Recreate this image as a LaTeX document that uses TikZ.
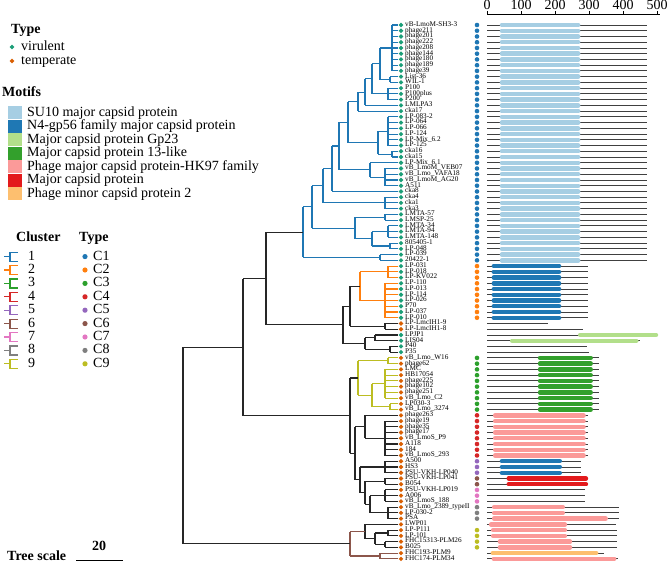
\documentclass[tikz,border=0pt]{standalone}
\usepackage{fontspec}
\setmainfont{Liberation Serif}
\definecolor{vir}{HTML}{1B9E77}
\definecolor{tem}{HTML}{D95F02}
\definecolor{m1}{HTML}{A6CEE3}
\definecolor{m2}{HTML}{1F78B4}
\definecolor{m3}{HTML}{B2DF8A}
\definecolor{m4}{HTML}{33A02C}
\definecolor{m5}{HTML}{FB9A99}
\definecolor{m6}{HTML}{E31A1C}
\definecolor{m7}{HTML}{FDBF6F}
\definecolor{c1}{HTML}{1F77B4}
\definecolor{c2}{HTML}{FF7F0E}
\definecolor{c3}{HTML}{2CA02C}
\definecolor{c4}{HTML}{D62728}
\definecolor{c5}{HTML}{9467BD}
\definecolor{c6}{HTML}{8C564B}
\definecolor{c7}{HTML}{E377C2}
\definecolor{c8}{HTML}{7F7F7F}
\definecolor{c9}{HTML}{BCBD22}
\pgfmathdeclarefunction{ly}{1}{\pgfmathparse{25+(#1-1)*5.74}}
\tikzset{
  lab/.style={anchor=west,inner sep=0pt,text height=3.6pt,text depth=0.9pt,font=\fontsize{7.2}{7.2}\selectfont},
  leg/.style={anchor=west,inner sep=0pt,text height=9.5pt,text depth=2.5pt,font=\fontsize{14}{14}\selectfont},
  hd/.style={anchor=west,inner sep=0pt,text height=9.5pt,text depth=2.5pt,font=\fontsize{14}{14}\selectfont\bfseries},
  tb/.style={line width=1.1pt,black!85},
  tblue/.style={line width=1.1pt,c1},
  torange/.style={line width=1.1pt,c2},
  tolive/.style={line width=1.1pt,c9},
  tbrown/.style={line width=1.1pt,c6},
  protline/.style={line width=0.9pt,black!75},
}
\newcommand\diam[3]{\fill[#3] (#1,#2) +(0,-2.3) -- +(2.3,0) -- +(0,2.3) -- +(-2.3,0) -- cycle;}
\newcommand\vbr[4]{\draw[#4] (#1,#2) -- (#1,#3);}
\newcommand\hbr[4]{\draw[#4] (#1,#3) -- (#2,#3);}
\newcommand\lfs[4]{\foreach \i in {#2,...,#3}{\draw[#4] (#1,{ly(\i)}) -- (398,{ly(\i)});}}
\newcommand\grp[4]{\vbr{#1}{{ly(#2)}}{{ly(#3)}}{#4}\lfs{#1}{#2}{#3}{#4}}
\newcommand\leaf[8]{%
  \pgfmathsetmacro\yy{25+(#1-1)*5.74}%
  \ifx v#3\diam{401}{\yy}{vir}\else\diam{401}{\yy}{tem}\fi
  \node[lab] (leaf#1) at (405,\yy) {#2};
  \ifnum#4>0 \fill[c#4] (477,\yy) circle (2.3);\fi
  \draw[protline] (487,\yy) -- ++(#5*0.34,0);
  \ifnum#6>0 \draw[line width=4.4pt,line cap=round,m#6] ({487+#7*0.34+2},\yy) -- ({487+#8*0.34-2},\yy);\fi
}
\begin{document}
\begin{tikzpicture}[x=1pt,y=-1pt]
\useasboundingbox (0,0) rectangle (669,564);
% ---------- legend ----------
\node[hd] (tyh) at (11,30) {Type};
\diam{12}{47}{vir}\node[leg] (lv) at (21,47) {virulent};
\diam{12}{61}{tem}\node[leg] (lt) at (21,61) {temperate};
\node[hd] (moh) at (2,93) {Motifs};
\foreach \c/\t [count=\k from 0] in {m1/SU10 major capsid protein,m2/N4-gp56 family major capsid protein,m3/Major capsid protein Gp23,m4/Major capsid protein 13-like,m5/Phage major capsid protein-HK97 family,m6/Major capsid protein,m7/Phage minor capsid protein 2}{
  \fill[\c] (8,{113+\k*13.5-6.5}) rectangle (22,{113+\k*13.5+6.5});
  \node[leg] at (27,{113+\k*13.5}) {\t};
}
\node[hd] (clh) at (16,238) {Cluster};
\node[hd] (cth) at (79,238) {Type};
\foreach \k in {1,...,9}{
  \pgfmathsetmacro\yc{256.6+(\k-1)*13.4}
  \draw[c\k,line width=1.2pt] (4,\yc) -- (10,\yc) (18,\yc-4.5) -- (10,\yc-4.5) -- (10,\yc+4.5) -- (18,\yc+4.5);
  \node[leg] at (28,\yc) {\k};
  \fill[c\k] (85,\yc) circle (2.6);
  \node[leg] at (93,\yc) {C\k};
}
\node[hd] (tsc) at (7,557) {Tree scale};
\draw[line width=1pt] (76,560) -- (123,560);
\node[inner sep=0pt,font=\fontsize{14}{14}\selectfont\bfseries] (ts20) at (99,546) {20};
% ---------- axis ----------
\draw[line width=1pt] (487,15) -- (660,15);
\foreach \v in {0,100,...,500}{
  \draw[line width=1pt] ({487+\v*0.34},15) -- ++(0,-4);
  \node[inner sep=0pt,font=\fontsize{14}{14}\selectfont] at ({487+\v*0.34},5) {\v};
}
% ---------- tree : cluster 1 (blue) ----------
\grp{392}{1}{9}{tblue}    \hbr{380}{392}{47.96}{tblue}
\grp{390}{10}{11}{tblue}  \hbr{380}{390}{79.53}{tblue}
\vbr{380}{47.96}{79.53}{tblue}   \hbr{372}{380}{63.75}{tblue}
\grp{388}{12}{14}{tblue}  \hbr{372}{388}{93.88}{tblue}
\vbr{372}{63.75}{93.88}{tblue}   \hbr{365}{372}{78.8}{tblue}
\lfs{365}{15}{15}{tblue}
\vbr{365}{78.8}{105.36}{tblue}   \hbr{358}{365}{92.08}{tblue}
\lfs{358}{16}{16}{tblue}
\vbr{358}{92.08}{111.1}{tblue}   \hbr{348}{358}{101.6}{tblue}
\grp{388}{17}{22}{tblue}  \hbr{378}{388}{131.19}{tblue}
\grp{392}{23}{24}{tblue}  \hbr{378}{392}{154.15}{tblue}
\vbr{378}{131.19}{154.15}{tblue} \hbr{348}{378}{142.67}{tblue}
\vbr{348}{101.6}{142.67}{tblue}  \hbr{339}{348}{122.1}{tblue}
\lfs{370}{25}{25}{tblue}
\grp{385}{26}{29}{tblue}  \hbr{370}{385}{177.11}{tblue}
\vbr{370}{162.76}{177.11}{tblue} \hbr{339}{370}{169.94}{tblue}
\vbr{339}{122.1}{169.94}{tblue}  \hbr{332}{339}{146.02}{tblue}
\lfs{332}{30}{30}{tblue}
\vbr{332}{146.02}{191.46}{tblue} \hbr{323}{332}{168.74}{tblue}
\grp{385}{31}{33}{tblue}  \hbr{323}{385}{202.94}{tblue}
\vbr{323}{168.74}{202.94}{tblue} \hbr{312}{323}{185.84}{tblue}
\grp{385}{34}{35}{tblue}  \hbr{355}{385}{217.29}{tblue}
\grp{388}{36}{38}{tblue}  \hbr{372}{388}{231.64}{tblue}
\grp{390}{39}{40}{tblue}  \hbr{372}{390}{245.99}{tblue}
\vbr{372}{231.64}{245.99}{tblue} \hbr{355}{372}{238.8}{tblue}
\vbr{355}{217.29}{238.8}{tblue}  \hbr{312}{355}{228.05}{tblue}
\vbr{312}{185.84}{228.05}{tblue} \hbr{303}{312}{206.9}{tblue}
\grp{380}{41}{42}{tblue}  \hbr{303}{380}{257.47}{tblue}
\vbr{303}{206.9}{257.47}{tblue}  \hbr{266}{303}{232.18}{tb}
% ---------- cluster 2 (orange) and unclustered ----------
\grp{388}{43}{45}{torange} \hbr{360}{388}{271.82}{torange}
\grp{385}{46}{52}{torange} \hbr{360}{385}{300.52}{torange}
\vbr{360}{271.82}{300.52}{torange} \hbr{350}{360}{286.17}{tb}
\grp{385}{53}{54}{tb}      \hbr{350}{385}{326.35}{tb}
\vbr{350}{286.17}{326.35}{tb}  \hbr{343}{350}{306.26}{tb}
\grp{375}{55}{56}{tb}      \hbr{365}{375}{337.83}{tb}
\grp{390}{57}{58}{tb}      \hbr{365}{390}{349.31}{tb}
\vbr{365}{337.83}{349.31}{tb}  \hbr{343}{365}{343.57}{tb}
\vbr{343}{306.26}{343.57}{tb}  \hbr{266}{343}{324.9}{tb}
\vbr{266}{232.18}{324.9}{tb}   \hbr{243}{266}{278.54}{tb}
% ---------- lower group ----------
\grp{388}{59}{60}{tolive}  \hbr{358}{388}{360.79}{tolive}
\grp{385}{61}{66}{tolive}  \hbr{372}{385}{383.75}{tolive}
\grp{390}{67}{68}{tolive}  \hbr{372}{390}{406.71}{tolive}
\vbr{372}{383.75}{406.71}{tolive} \hbr{358}{372}{395.23}{tolive}
\vbr{358}{360.79}{395.23}{tolive} \hbr{350}{358}{378.01}{tb}
\grp{385}{70}{76}{tb}      \hbr{365}{385}{438.28}{tb}
\lfs{365}{69}{69}{tb}
\vbr{365}{415.32}{438.28}{tb}  \hbr{355}{365}{426.8}{tb}
\grp{385}{77}{79}{tb}      \hbr{360}{385}{466.98}{tb}
\grp{385}{80}{81}{tb}      \hbr{365}{385}{481.33}{tb}
\grp{385}{82}{84}{tb}      \hbr{370}{385}{495.68}{tb}
\grp{388}{85}{87}{tb}      \hbr{370}{388}{512.9}{tb}
\vbr{370}{495.68}{512.9}{tb}   \hbr{365}{370}{504.29}{tb}
\vbr{365}{481.33}{504.29}{tb}  \hbr{360}{365}{492.81}{tb}
\vbr{360}{466.98}{492.81}{tb}  \hbr{355}{360}{479.9}{tb}
\vbr{355}{426.8}{479.9}{tb}    \hbr{350}{355}{453.35}{tb}
\vbr{350}{378.01}{453.35}{tb}  \hbr{243}{350}{415.68}{tb}
\vbr{243}{278.54}{415.68}{tb}  \hbr{183}{243}{347.11}{tb}
% ---------- bottom clade ----------
\grp{388}{89}{90}{tb}      \hbr{375}{388}{532.99}{tb}
\grp{385}{91}{92}{tb}      \hbr{375}{385}{544.47}{tb}
\vbr{375}{532.99}{544.47}{tb}  \hbr{365}{375}{538.73}{tb}
\lfs{365}{88}{88}{tb}
\vbr{365}{524.38}{538.73}{tb}  \hbr{350}{365}{531.56}{tbrown}
\grp{380}{93}{94}{tbrown}  \hbr{350}{380}{555.95}{tbrown}
\vbr{350}{531.56}{555.95}{tbrown} \hbr{183}{350}{543.76}{tb}
\vbr{183}{347.11}{543.76}{tb}
% ---------- leaves ----------
\leaf{1}{vB-LmoM-SH3-3}{v}{1}{470}{1}{38}{274}
\leaf{2}{phage211}{v}{1}{470}{1}{38}{274}
\leaf{3}{phage201}{v}{1}{470}{1}{38}{274}
\leaf{4}{phage222}{v}{1}{470}{1}{38}{274}
\leaf{5}{phage208}{v}{1}{470}{1}{38}{274}
\leaf{6}{phage144}{v}{1}{470}{1}{38}{274}
\leaf{7}{phage180}{v}{1}{470}{1}{38}{274}
\leaf{8}{phage189}{v}{1}{470}{1}{38}{274}
\leaf{9}{phage39}{v}{1}{470}{1}{38}{274}
\leaf{10}{List-36}{v}{1}{470}{1}{38}{274}
\leaf{11}{WIL-1}{v}{1}{470}{1}{38}{274}
\leaf{12}{P100}{v}{1}{470}{1}{38}{274}
\leaf{13}{P100plus}{v}{1}{470}{1}{38}{274}
\leaf{14}{P200}{v}{1}{470}{1}{38}{274}
\leaf{15}{LMLPA3}{v}{1}{470}{1}{38}{274}
\leaf{16}{cka17}{v}{1}{470}{1}{38}{274}
\leaf{17}{LP-083-2}{v}{1}{470}{1}{38}{274}
\leaf{18}{LP-064}{v}{1}{470}{1}{38}{274}
\leaf{19}{LP-066}{v}{1}{470}{1}{38}{274}
\leaf{20}{LP-124}{v}{1}{470}{1}{38}{274}
\leaf{21}{LP-Mix\_6.2}{v}{1}{470}{1}{38}{274}
\leaf{22}{LP-125}{v}{1}{470}{1}{38}{274}
\leaf{23}{cka16}{v}{1}{470}{1}{38}{274}
\leaf{24}{cka15}{v}{1}{470}{1}{38}{274}
\leaf{25}{LP-Mix\_6.1}{v}{1}{470}{1}{38}{274}
\leaf{26}{vB\_LmoM\_VEB07}{v}{1}{470}{1}{38}{274}
\leaf{27}{vB\_Lmo\_VAFA18}{v}{1}{470}{1}{38}{274}
\leaf{28}{vB\_LmoM\_AG20}{v}{1}{470}{1}{38}{274}
\leaf{29}{A511}{v}{1}{470}{1}{38}{274}
\leaf{30}{cka8}{v}{1}{470}{1}{38}{274}
\leaf{31}{cka4}{v}{1}{470}{1}{38}{274}
\leaf{32}{cka1}{v}{1}{470}{1}{38}{274}
\leaf{33}{cka3}{v}{1}{470}{1}{38}{274}
\leaf{34}{LMTA-57}{v}{1}{470}{1}{38}{274}
\leaf{35}{LMSP-25}{v}{1}{470}{1}{38}{274}
\leaf{36}{LMTA-34}{v}{1}{470}{1}{38}{274}
\leaf{37}{LMTA-94}{v}{1}{470}{1}{38}{274}
\leaf{38}{LMTA-148}{v}{1}{470}{1}{38}{274}
\leaf{39}{805405-1}{v}{1}{470}{1}{38}{274}
\leaf{40}{LP-048}{v}{1}{470}{1}{38}{274}
\leaf{41}{LP-039}{v}{1}{470}{1}{38}{274}
\leaf{42}{20422-1}{v}{1}{470}{1}{38}{274}
\leaf{43}{LP-031}{v}{2}{298}{2}{14}{218}
\leaf{44}{LP-018}{v}{2}{298}{2}{14}{218}
\leaf{45}{LP-KV022}{v}{2}{298}{2}{14}{218}
\leaf{46}{LP-110}{v}{2}{298}{2}{14}{218}
\leaf{47}{LP-013}{v}{2}{298}{2}{14}{218}
\leaf{48}{LP-114}{v}{2}{298}{2}{14}{218}
\leaf{49}{LP-026}{v}{2}{298}{2}{14}{218}
\leaf{50}{P70}{v}{2}{298}{2}{14}{218}
\leaf{51}{LP-037}{v}{2}{298}{2}{14}{218}
\leaf{52}{LP-010}{v}{2}{298}{2}{14}{218}
\leaf{53}{LP-LmcIH1-9}{t}{0}{180}{0}{0}{0}
\leaf{54}{LP-LmcIH1-8}{t}{0}{283}{0}{0}{0}
\leaf{55}{LPJP1}{v}{0}{503}{3}{268}{503}
\leaf{56}{LIS04}{v}{0}{450}{3}{68}{445}
\leaf{57}{P40}{v}{0}{295}{0}{0}{0}
\leaf{58}{P35}{v}{0}{300}{0}{0}{0}
\leaf{59}{vB\_Lmo\_W16}{t}{3}{330}{4}{150}{311}
\leaf{60}{phage62}{t}{3}{330}{4}{150}{311}
\leaf{61}{LMC}{t}{3}{330}{4}{150}{311}
\leaf{62}{HB17054}{t}{3}{330}{4}{150}{311}
\leaf{63}{phage225}{t}{3}{330}{4}{150}{311}
\leaf{64}{phage102}{t}{3}{330}{4}{150}{311}
\leaf{65}{phage251}{t}{3}{330}{4}{150}{311}
\leaf{66}{vB\_Lmo\_C2}{t}{3}{330}{4}{150}{311}
\leaf{67}{LP030-3}{t}{3}{330}{4}{150}{311}
\leaf{68}{vB\_Lmo\_3274}{t}{3}{330}{4}{150}{311}
\leaf{69}{phage263}{t}{4}{296}{5}{18}{290}
\leaf{70}{phage19}{t}{4}{296}{5}{18}{290}
\leaf{71}{phage35}{t}{4}{296}{5}{18}{290}
\leaf{72}{phage17}{t}{4}{296}{5}{18}{290}
\leaf{73}{vB\_LmoS\_P9}{t}{4}{296}{5}{18}{290}
\leaf{74}{A118}{t}{4}{296}{5}{18}{290}
\leaf{75}{184}{t}{4}{296}{5}{18}{290}
\leaf{76}{vB\_LmoS\_293}{t}{4}{296}{5}{18}{290}
\leaf{77}{A500}{t}{5}{277}{2}{38}{220}
\leaf{78}{HS3}{t}{5}{277}{2}{38}{220}
\leaf{79}{PSU-VKH-LP040}{t}{5}{277}{2}{38}{220}
\leaf{80}{PSU-VKH-LP041}{t}{6}{297}{6}{58}{297}
\leaf{81}{B054}{t}{6}{297}{6}{58}{297}
\leaf{82}{PSU-VKH-LP019}{t}{7}{288}{0}{0}{0}
\leaf{83}{A006}{t}{7}{288}{0}{0}{0}
\leaf{84}{vB\_LmoS\_188}{t}{7}{288}{0}{0}{0}
\leaf{85}{vB\_Lmo\_2389\_typeII}{t}{8}{388}{5}{15}{229}
\leaf{86}{LP-030-2}{t}{8}{388}{5}{15}{229}
\leaf{87}{PSA}{t}{8}{388}{5}{15}{355}
\leaf{88}{LWP01}{t}{0}{380}{5}{6}{235}
\leaf{89}{LP-P111}{t}{9}{382}{5}{12}{235}
\leaf{90}{LP-101}{t}{9}{382}{5}{12}{235}
\leaf{91}{FHC15313-PLM26}{t}{9}{382}{5}{32}{250}
\leaf{92}{B025}{t}{9}{382}{5}{32}{250}
\leaf{93}{FHC193-PLM9}{t}{0}{344}{7}{11}{327}
\leaf{94}{FHC174-PLM34}{t}{0}{385}{5}{14}{380}
\end{tikzpicture}
\end{document}
